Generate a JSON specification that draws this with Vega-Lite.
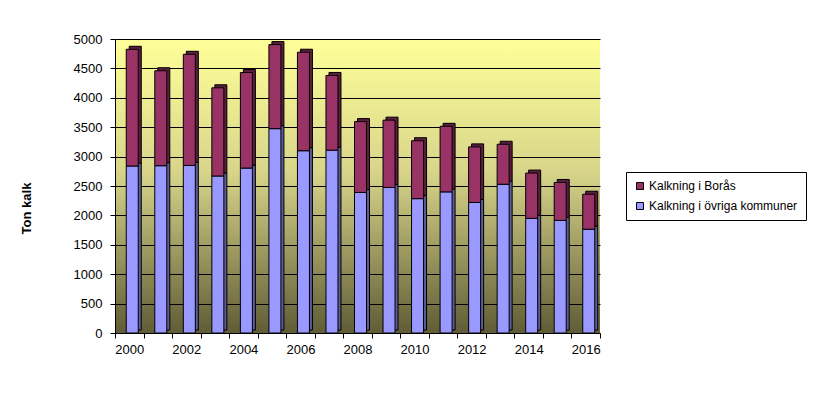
{
  "$schema": "https://vega.github.io/schema/vega-lite/v6.json",
  "width": 485,
  "height": 294,
  "autosize": {"type": "none"},
  "padding": {"left": 115, "top": 39, "right": 213, "bottom": 60},
  "background": "white",
  "config": {
    "view": {"stroke": null, "fill": {"gradient": "linear", "x1": 0, "y1": 0, "x2": 0, "y2": 1, "stops": [{"offset": 0, "color": "#FFFF99"}, {"offset": 0.45, "color": "#D8D58A"}, {"offset": 1, "color": "#605C36"}]}},
    "axis": {"labelFont": "Liberation Sans", "labelFontSize": 13, "labelColor": "#000000", "domainColor": "#000000", "tickColor": "#000000", "titleFont": "Liberation Sans", "titleColor": "#000000"},
    "legend": {"labelFont": "Liberation Sans", "labelFontSize": 12, "labelColor": "#000000"}
  },
  "data": {"values": [
    {"year": 2000, "serie": "Kalkning i övriga kommuner", "ton": 2840},
    {"year": 2000, "serie": "Kalkning i Borås", "ton": 1985},
    {"year": 2001, "serie": "Kalkning i övriga kommuner", "ton": 2845},
    {"year": 2001, "serie": "Kalkning i Borås", "ton": 1615},
    {"year": 2002, "serie": "Kalkning i övriga kommuner", "ton": 2850},
    {"year": 2002, "serie": "Kalkning i Borås", "ton": 1890},
    {"year": 2003, "serie": "Kalkning i övriga kommuner", "ton": 2670},
    {"year": 2003, "serie": "Kalkning i Borås", "ton": 1500},
    {"year": 2004, "serie": "Kalkning i övriga kommuner", "ton": 2805},
    {"year": 2004, "serie": "Kalkning i Borås", "ton": 1625},
    {"year": 2005, "serie": "Kalkning i övriga kommuner", "ton": 3475},
    {"year": 2005, "serie": "Kalkning i Borås", "ton": 1430},
    {"year": 2006, "serie": "Kalkning i övriga kommuner", "ton": 3100},
    {"year": 2006, "serie": "Kalkning i Borås", "ton": 1675},
    {"year": 2007, "serie": "Kalkning i övriga kommuner", "ton": 3110},
    {"year": 2007, "serie": "Kalkning i Borås", "ton": 1270},
    {"year": 2008, "serie": "Kalkning i övriga kommuner", "ton": 2390},
    {"year": 2008, "serie": "Kalkning i Borås", "ton": 1205},
    {"year": 2009, "serie": "Kalkning i övriga kommuner", "ton": 2475},
    {"year": 2009, "serie": "Kalkning i Borås", "ton": 1145},
    {"year": 2010, "serie": "Kalkning i övriga kommuner", "ton": 2285},
    {"year": 2010, "serie": "Kalkning i Borås", "ton": 985},
    {"year": 2011, "serie": "Kalkning i övriga kommuner", "ton": 2400},
    {"year": 2011, "serie": "Kalkning i Borås", "ton": 1115},
    {"year": 2012, "serie": "Kalkning i övriga kommuner", "ton": 2220},
    {"year": 2012, "serie": "Kalkning i Borås", "ton": 945},
    {"year": 2013, "serie": "Kalkning i övriga kommuner", "ton": 2530},
    {"year": 2013, "serie": "Kalkning i Borås", "ton": 680},
    {"year": 2014, "serie": "Kalkning i övriga kommuner", "ton": 1950},
    {"year": 2014, "serie": "Kalkning i Borås", "ton": 770},
    {"year": 2015, "serie": "Kalkning i övriga kommuner", "ton": 1915},
    {"year": 2015, "serie": "Kalkning i Borås", "ton": 645},
    {"year": 2016, "serie": "Kalkning i övriga kommuner", "ton": 1765},
    {"year": 2016, "serie": "Kalkning i Borås", "ton": 595}
  ]},
  "encoding": {
    "x": {"field": "year", "type": "ordinal", "scale": {"paddingInner": 0, "paddingOuter": 0},
      "axis": {"title": null, "labelAngle": 0, "labelExpr": "datum.value % 2 == 0 ? datum.label : ''", "tickBand": "extent", "tickSize": 5, "labelPadding": 5, "grid": false}},
    "y": {"field": "ton", "type": "quantitative", "stack": "zero", "scale": {"domain": [0, 5000], "nice": false},
      "axis": {"title": "Ton kalk", "titleFontWeight": "bold", "titleFontSize": 13, "titleX": -82, "titleY": 169, "values": [0, 500, 1000, 1500, 2000, 2500, 3000, 3500, 4000, 4500, 5000], "format": "d", "grid": true, "gridColor": "#000000", "gridOpacity": 1, "gridWidth": 1, "tickSize": 5, "labelPadding": 8}},
    "order": {"field": "serie", "sort": "descending"}
  },
  "layer": [
    {
      "mark": {"type": "bar", "size": 12, "xOffset": 6, "x2Offset": 6, "yOffset": -3, "y2Offset": -3, "stroke": "#000000", "strokeWidth": 1},
      "encoding": {
        "color": {"field": "serie", "type": "nominal",
          "scale": {"domain": ["Kalkning i Borås", "Kalkning i övriga kommuner"], "range": ["#993366", "#9999FF"]},
          "legend": {"title": null, "orient": "none", "legendX": 511, "legendY": 133, "strokeColor": "#000000", "fillColor": "#FFFFFF", "padding": 8, "symbolType": "square", "symbolSize": 49, "symbolStrokeColor": "#000000", "symbolStrokeWidth": 1, "rowPadding": 8, "labelOffset": 3}}
      }
    },
    {
      "mark": {"type": "bar", "size": 12, "xOffset": 6, "x2Offset": 6, "yOffset": -3, "y2Offset": -3, "fill": "#000000", "fillOpacity": 0.4},
      "encoding": {"detail": {"field": "serie"}}
    },
    {
      "mark": {"type": "bar", "size": 12, "xOffset": 3, "x2Offset": 3, "stroke": "#000000", "strokeWidth": 1},
      "encoding": {
        "color": {"field": "serie", "type": "nominal"}
      }
    }
  ]
}
